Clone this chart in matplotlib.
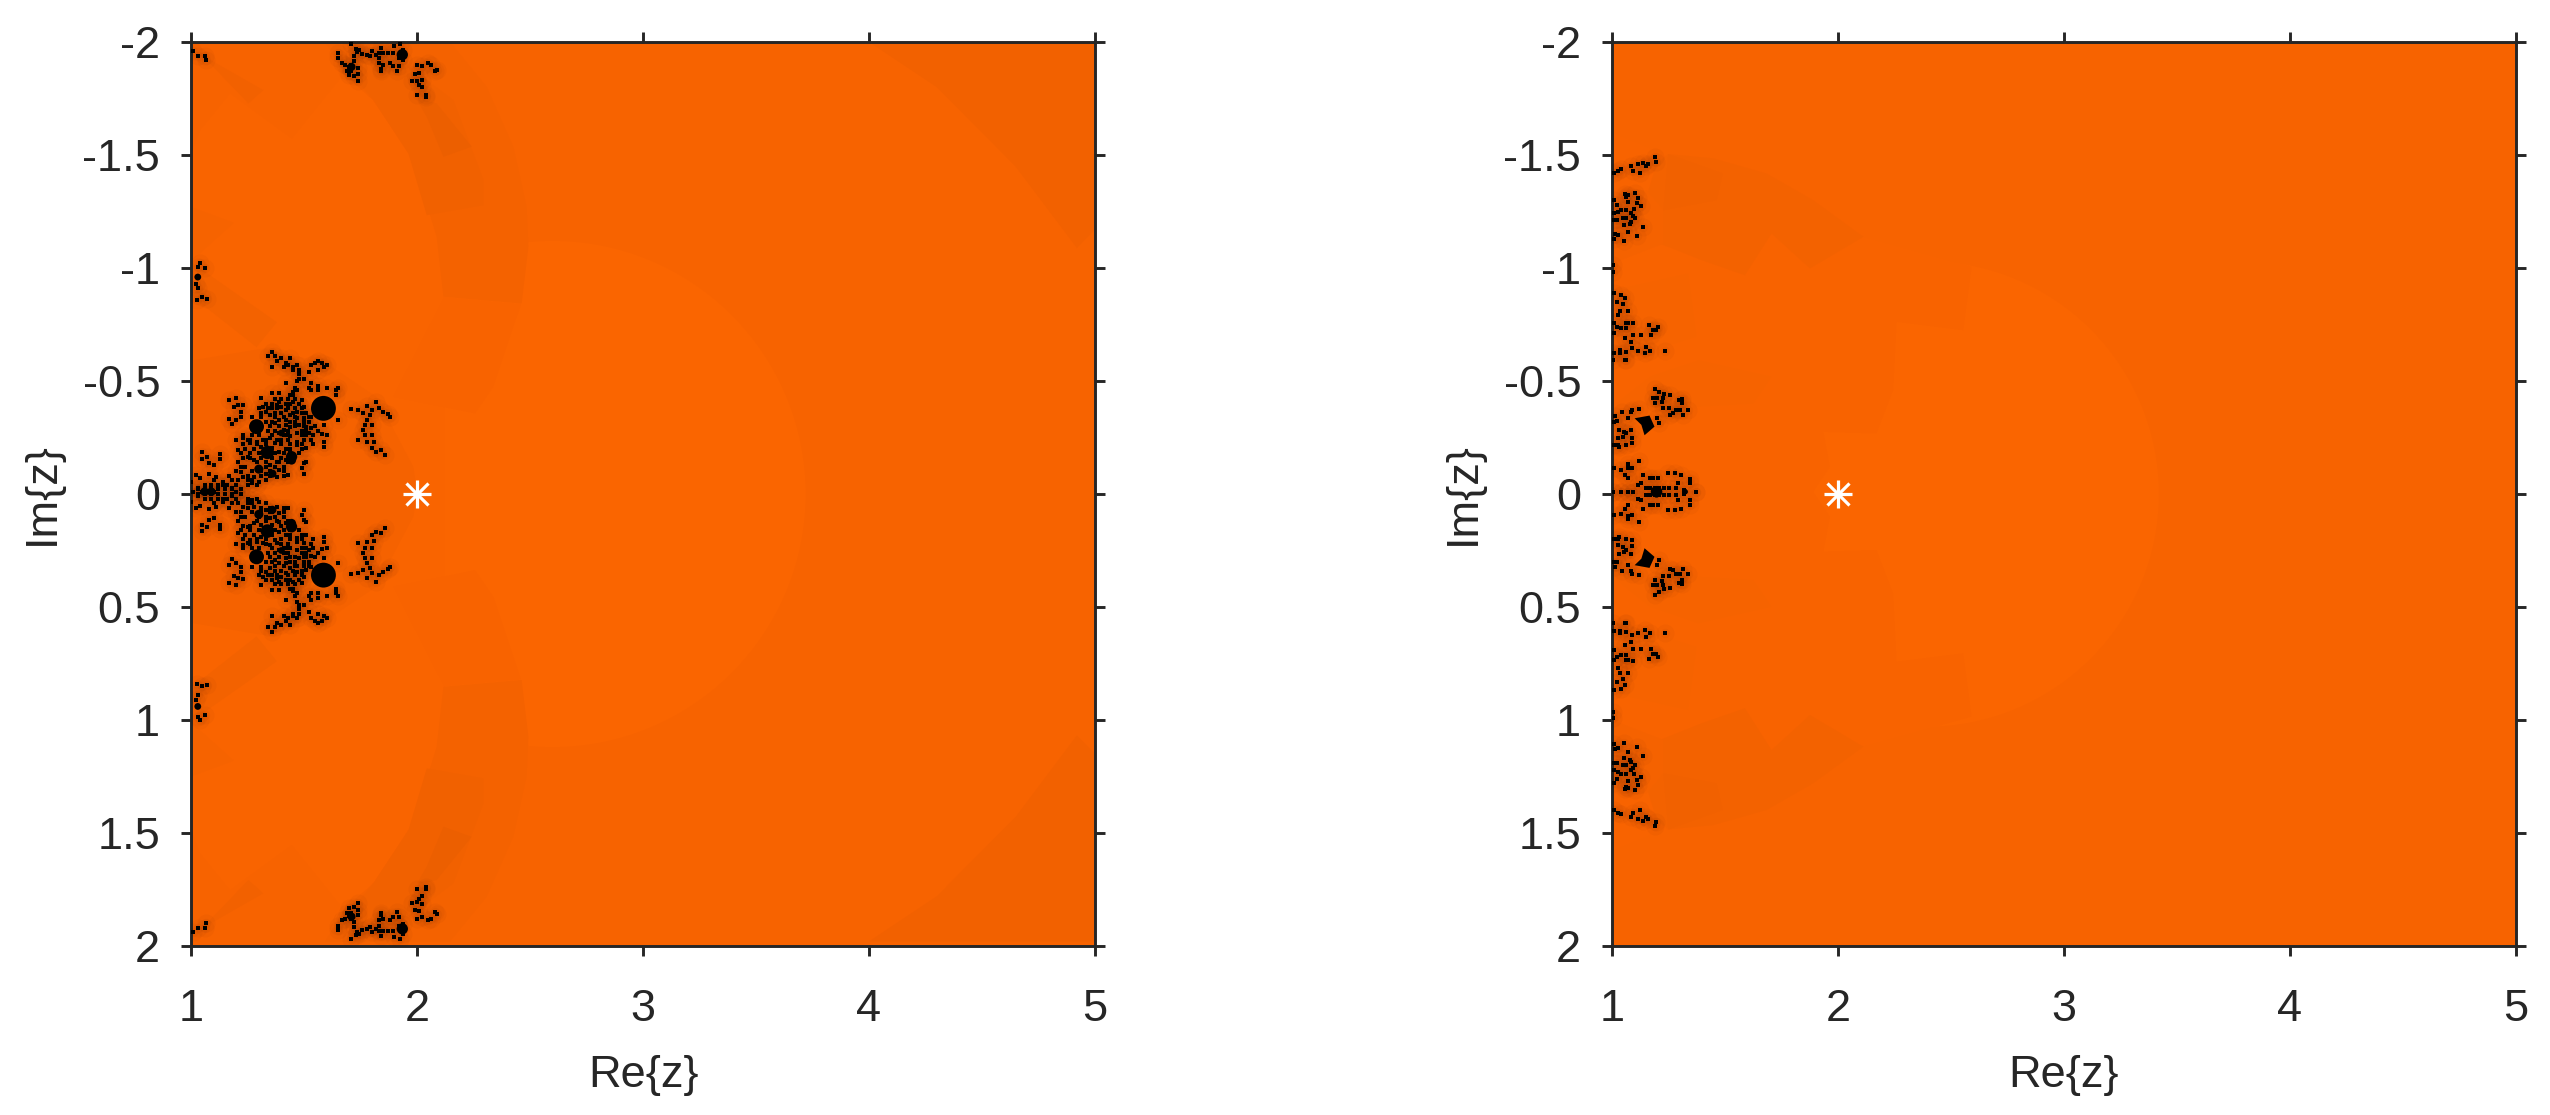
import numpy as np
import matplotlib
matplotlib.use("Agg")
import matplotlib.pyplot as plt
from matplotlib.patches import Circle, Polygon

plt.rcParams["font.family"] = ["Liberation Sans", "DejaVu Sans"]

ink = "#262626"
x_ticks = [1, 2, 3, 4, 5]
y_ticks = [-2, -1.5, -1, -0.5, 0, 0.5, 1, 1.5, 2]
y_tick_labels = ["-2", "-1.5", "-1", "-0.5", "0", "0.5", "1", "1.5", "2"]

# the pictures are mirror images about this Im value (half a grid cell off zero)
mirror_im = -0.01
star_point = (2.0, 0.0)

# left panel, upper half, black cells (Re, Im)
left_main = [
    (1.36, -.63), (1.34, -.61), (1.37, -.61), (1.38, -.59), (1.40, -.60), (1.44, -.60), (1.42, -.58), (1.43, -.57),
    (1.45, -.56), (1.41, -.56), (1.36, -.56), (1.47, -.57), (1.48, -.55), (1.48, -.53), (1.45, -.55), (1.56, -.59),
    (1.55, -.58), (1.53, -.57), (1.56, -.55), (1.58, -.58), (1.60, -.57), (1.59, -.56), (1.52, -.54), (1.50, -.51),
    (1.48, -.51), (1.47, -.50), (1.46, -.47), (1.45, -.45), (1.47, -.46), (1.45, -.44), (1.44, -.44), (1.42, -.49),
    (1.53, -.49), (1.52, -.47), (1.56, -.48), (1.56, -.46), (1.53, -.46), (1.60, -.47), (1.64, -.46), (1.65, -.47),
    (1.64, -.44), (1.39, -.445), (1.36, -.445), (1.31, -.423), (1.39, -.408), (1.38, -.393), (1.36, -.379),
    (1.40, -.386), (1.42, -.371), (1.32, -.386), (1.33, -.364), (1.35, -.349), (1.45, -.408), (1.49, -.416),
    (1.50, -.386), (1.47, -.364), (1.44, -.349), (1.51, -.357), (1.53, -.342), (1.50, -.337), (1.47, -.337),
    (1.42, -.327), (1.39, -.327), (1.37, -.312), (1.42, -.305), (1.44, -.298), (1.48, -.305), (1.51, -.298),
    (1.53, -.293), (1.59, -.305), (1.65, -.327), (1.41, -.283), (1.39, -.268), (1.41, -.26), (1.44, -.258),
    (1.47, -.268), (1.52, -.268), (1.54, -.26), (1.58, -.264), (1.50, -.239), (1.47, -.231), (1.38, -.239),
    (1.35, -.246), (1.37, -.224), (1.32, -.239), (1.29, -.231), (1.26, -.224), (1.25, -.239), (1.31, -.209),
    (1.36, -.202), (1.39, -.187), (1.41, -.18), (1.51, -.202), (1.59, -.231), (1.59, -.209), (1.47, -.216),
    (1.23, -.26), (1.23, -.246), (1.21, -.194), (1.25, -.165), (1.28, -.15), (1.31, -.158), (1.36, -.158),
    (1.39, -.143), (1.35, -.128), (1.42, -.15), (1.22, -.12), (1.22, -.098), (1.23, -.076), (1.25, -.06),
    (1.28, -.076), (1.33, -.09), (1.36, -.098), (1.39, -.106), (1.38, -.076), (1.30, -.054), (1.27, -.047),
    (1.43, -.084), (1.50, -.135), (1.51, -.143), (1.49, -.113), (1.50, -.09),
    (1.17, -.416), (1.20, -.423), (1.19, -.383), (1.21, -.393), (1.23, -.396), (1.22, -.364), (1.22, -.342),
    (1.20, -.327), (1.17, -.332), (1.18, -.308), (1.27, -.342), (1.31, -.342),
    (1.05, -.184), (1.05, -.155), (1.07, -.165), (1.08, -.135), (1.10, -.128), (1.13, -.175), (1.13, -.155),
    (1.02, -.084), (1.04, -.072), (1.08, -.087), (1.11, -.076), (1.14, -.054), (1.12, -.04), (1.16, -.04),
    (1.18, -.028), (1.20, -.01), (1.22, -.022), (1.00, -.054), (1.03, -.028), (1.01, -.01), (1.05, -.01),
    (1.08, -.01), (1.10, -.01),
]
# the dense middle of the same cluster
left_dense = [
    (1.37, -.42), (1.40, -.42), (1.43, -.42), (1.46, -.42), (1.33, -.40), (1.36, -.40), (1.42, -.40), (1.44, -.40),
    (1.48, -.40), (1.30, -.38), (1.34, -.38), (1.38, -.38), (1.43, -.38), (1.46, -.38), (1.49, -.38), (1.31, -.36),
    (1.37, -.36), (1.40, -.36), (1.45, -.36), (1.49, -.36), (1.37, -.34), (1.41, -.34), (1.46, -.34), (1.52, -.34),
    (1.33, -.32), (1.36, -.32), (1.44, -.32), (1.46, -.32), (1.50, -.32), (1.52, -.32), (1.35, -.30), (1.39, -.30),
    (1.46, -.30), (1.50, -.30), (1.55, -.30), (1.34, -.28), (1.37, -.28), (1.43, -.28), (1.49, -.28), (1.51, -.28),
    (1.56, -.28), (1.27, -.26), (1.30, -.26), (1.36, -.26), (1.43, -.26), (1.49, -.26), (1.51, -.26), (1.60, -.26),
    (1.20, -.24), (1.26, -.24), (1.33, -.24), (1.40, -.24), (1.43, -.24), (1.53, -.24), (1.23, -.22), (1.29, -.22),
    (1.33, -.22), (1.40, -.22), (1.44, -.22), (1.49, -.22), (1.54, -.22), (1.24, -.20), (1.28, -.20), (1.42, -.20),
    (1.44, -.20), (1.49, -.20), (1.22, -.18), (1.26, -.18), (1.30, -.18), (1.37, -.18), (1.44, -.18), (1.48, -.18),
    (1.23, -.16), (1.26, -.16), (1.40, -.16), (1.44, -.16), (1.21, -.14), (1.29, -.14), (1.33, -.14), (1.38, -.14),
    (1.43, -.14), (1.24, -.12), (1.30, -.12), (1.33, -.12), (1.37, -.12), (1.41, -.12), (1.20, -.10), (1.27, -.10),
    (1.31, -.10), (1.35, -.10), (1.41, -.10), (1.17, -.08), (1.25, -.08), (1.31, -.08), (1.35, -.08), (1.41, -.08),
    (1.10, -.06), (1.18, -.06), (1.21, -.06), (1.27, -.06), (1.33, -.06), (1.06, -.04), (1.09, -.04), (1.14, -.04),
    (1.20, -.04), (1.25, -.04), (1.29, -.04), (1.03, -.02), (1.06, -.02), (1.09, -.02), (1.12, -.02), (1.15, -.02),
    (1.18, -.02), (1.22, -.02),
]
left_side = [
    (1.71, -.376), (1.74, -.371), (1.76, -.357), (1.78, -.39), (1.80, -.371), (1.79, -.349), (1.82, -.408),
    (1.83, -.379), (1.85, -.364), (1.87, -.354), (1.88, -.342), (1.78, -.327), (1.77, -.305), (1.80, -.305),
    (1.76, -.283), (1.77, -.26), (1.80, -.26), (1.74, -.239), (1.78, -.231), (1.81, -.228), (1.80, -.202),
    (1.82, -.187), (1.84, -.194), (1.86, -.172),
]
left_top = [
    (1.71, -1.99), (1.73, -1.97), (1.745, -1.966), (1.735, -1.956), (1.65, -1.95), (1.65, -1.93), (1.67, -1.907),
    (1.68, -1.90), (1.72, -1.937), (1.72, -1.915), (1.71, -1.90), (1.70, -1.888), (1.69, -1.873), (1.71, -1.873),
    (1.72, -1.848), (1.70, -1.853), (1.74, -1.859), (1.74, -1.829), (1.74, -1.885), (1.755, -1.949), (1.78, -1.944),
    (1.79, -1.937), (1.80, -1.959), (1.82, -1.944), (1.84, -1.974), (1.83, -1.952), (1.83, -1.93), (1.85, -1.952),
    (1.87, -1.952), (1.895, -1.952), (1.90, -1.981), (1.925, -1.989), (1.94, -1.966), (1.925, -1.937), (1.94, -1.922),
    (1.92, -1.93), (1.83, -1.907), (1.85, -1.90), (1.88, -1.907), (1.895, -1.893), (1.92, -1.893), (1.91, -1.87),
    (1.84, -1.873), (1.84, -1.882), (2.0, -1.90), (2.02, -1.893), (2.05, -1.907), (2.06, -1.90), (2.09, -1.878),
    (2.08, -1.87), (2.01, -1.863), (1.99, -1.859), (2.02, -1.834), (2.0, -1.826), (1.98, -1.829), (2.01, -1.81),
    (2.02, -1.80), (2.0, -1.767), (2.04, -1.767), (2.04, -1.757),
]
left_edge = [
    (1.03, -1.94), (1.06, -1.94), (1.01, -1.96), (1.065, -1.92), (1.04, -1.02), (1.03, -1.006), (1.06, -1.0),
    (1.02, -.93), (1.03, -.91), (1.05, -.87), (1.025, -.86), (1.07, -.865),
]
# solid lumps: Re, Im, radius
left_blobs_re = [1.586, 1.29, 1.338, 1.445, 1.445, 1.06, 1.09, 1.30, 1.36, 1.40, 1.03, 1.935, 1.71]
left_blobs_im = [-.379, -.298, -.184, -.165, -.15, -.01, -.01, -.11, -.09, -.27, -.96, -1.944, -1.89]
left_blobs_r = [.055, .033, .03, .025, .02, .018, .018, .02, .018, .015, .015, .025, .018]

# right panel, upper half
right_arc = [
    (1.19, -1.49), (1.196, -1.47), (1.159, -1.46), (1.137, -1.466), (1.115, -1.46), (1.152, -1.451), (1.082, -1.451),
    (1.093, -1.43), (1.04, -1.436), (1.026, -1.43), (1.011, -1.42), (1.122, -1.42),
]
right_upper = [
    (1.056, -1.327), (1.063, -1.315), (1.07, -1.323), (1.10, -1.33), (1.008, -1.30), (1.07, -1.29), (1.115, -1.308),
    (1.11, -1.286), (1.13, -1.274), (1.023, -1.279), (1.026, -1.25), (1.04, -1.257), (1.063, -1.257), (1.008, -1.242),
    (1.085, -1.242), (1.097, -1.26), (1.093, -1.231), (1.103, -1.22), (1.048, -1.22), (1.063, -1.22), (1.011, -1.212),
    (1.023, -1.212), (1.085, -1.205), (1.078, -1.195), (1.053, -1.19), (1.137, -1.18), (1.073, -1.16), (1.112, -1.141),
    (1.026, -1.146), (1.014, -1.15), (1.008, -1.127), (1.053, -1.121), (1.004, -1.013), (1.004, -.984),
]
right_middle = [
    (1.01, -.888), (1.04, -.881), (1.056, -.866), (1.05, -.84), (1.023, -.851), (1.073, -.811), (1.034, -.811),
    (1.026, -.792), (1.008, -.755), (1.02, -.74), (1.04, -.733), (1.063, -.755), (1.07, -.755), (1.093, -.758),
    (1.063, -.733), (1.162, -.748), (1.18, -.726), (1.196, -.726), (1.203, -.74), (1.174, -.704), (1.056, -.689),
    (1.082, -.674), (1.127, -.704), (1.093, -.704), (1.011, -.711), (1.034, -.637), (1.008, -.625), (1.034, -.625),
    (1.063, -.63), (1.088, -.645), (1.115, -.634), (1.144, -.623), (1.152, -.652), (1.166, -.634), (1.233, -.634),
    (1.004, -.593), (1.056, -.593), (1.063, -.593),
]
right_lower = [
    (1.19, -.465), (1.21, -.453), (1.18, -.424), (1.20, -.424), (1.225, -.424), (1.19, -.402), (1.23, -.441),
    (1.255, -.438), (1.225, -.382), (1.25, -.382), (1.22, -.406), (1.295, -.416), (1.31, -.42), (1.31, -.402),
    (1.285, -.372), (1.30, -.372), (1.27, -.357), (1.314, -.35), (1.336, -.372), (1.255, -.35), (1.09, -.372),
    (1.085, -.362), (1.12, -.377), (1.07, -.335), (1.045, -.362), (1.015, -.343), (1.01, -.32), (1.02, -.323),
    (1.03, -.284), (1.055, -.276), (1.05, -.254), (1.063, -.269), (1.085, -.284), (1.09, -.25), (1.025, -.247),
    (1.01, -.217), (1.025, -.217), (1.063, -.217), (1.09, -.225), (1.03, -.21), (1.20, -.335), (1.21, -.313),
]
right_centre = [
    (1.04, -.107), (1.056, -.085), (1.07, -.07), (1.01, -.114), (1.07, -.132), (1.07, -.117), (1.12, -.144),
    (1.09, -.114), (1.137, -.085), (1.13, -.048), (1.115, -.04), (1.166, -.07), (1.18, -.07), (1.203, -.07),
    (1.277, -.092), (1.29, -.048), (1.306, -.085), (1.343, -.067), (1.343, -.048), (1.247, -.092), (1.284, -.025),
    (1.32, -.018), (1.373, -.01), (1.07, -.01), (1.093, -.01), (1.004, -.01), (1.04, -.01),
    (1.15, -.025), (1.17, -.025), (1.19, -.025), (1.21, -.025), (1.23, -.025), (1.25, -.025),
]
right_blobs_re = [1.197, 1.323]
right_blobs_im = [-.01, -.01]
right_blobs_r = [.025, .012]
right_lump = [(1.10, -.335), (1.166, -.347), (1.188, -.298), (1.144, -.26), (1.13, -.306)]

# shaded regions, listed from back to front (upper half)
left_field = "#f76300"
left_disc = (2.6, 0.0, 1.12, "#fa6500")
left_regions = [
    ("#f96400", [(1, -2), (1.59, -2), (1.69, -1.85), (1.81, -1.74), (1.98, -1.48), (2.09, -1.14), (2.12, -.87),
                 (2.12, -.01), (1, -.01)]),
    ("#f76300", [(1, -2), (1.593, -2), (1.66, -1.839), (1.446, -1.573), (1.173, -1.773), (1.04, -1.61), (1, -1.507)]),
    ("#f26100", [(1.01, -1.964), (1.32, -1.787), (1.254, -1.728), (1.084, -1.905)]),
    ("#f86300", [(2.12, -.87), (2.46, -.84), (2.338, -.475), (2.257, -.357), (1.895, -.43)]),
    ("#f46200", [(2.146, -2), (2.308, -1.802), (2.426, -1.537), (2.485, -1.271), (2.493, -1.094), (2.463, -.843),
                 (2.117, -.873), (2.087, -1.138), (1.984, -1.478), (1.807, -1.743), (1.689, -1.846), (1.593, -2)]),
    ("#f16100", [(1.925, -1.92), (2.161, -1.743), (2.294, -1.389), (2.294, -1.278), (2.043, -1.234), (1.962, -1.507),
                 (1.807, -1.743), (1.733, -1.832), (1.689, -1.994)]),
    ("#ec5f00", [(2.03, -1.743), (2.087, -1.728), (2.242, -1.537), (2.117, -1.492), (2.043, -1.669), (2.0, -1.743)]),
    ("#f56200", [(1.0, -.59), (1.32, -.644), (1.6, -.578), (1.82, -.43), (1.984, -.12), (2.0, -.01), (1, -.01)]),
    ("#f66300", [(1, -1.27), (1.19, -1.2), (1.0, -1.03)]),
    ("#f36200", [(1.01, -1.02), (1.38, -.76), (1.29, -.65), (1.01, -.87)]),
    ("#f26100", [(4.0, -2), (4.3, -1.8), (4.65, -1.447), (4.92, -1.088), (5, -1.17), (5, -2)]),
]
right_field = "#f76300"
right_disc = (2.39, 0.0, 1.03, "#fa6500")
right_regions = [
    ("#f86300", [(1, -1.6), (2.112, -1.138), (2.591, -1.005), (2.554, -.725), (2.259, -.762), (2.244, -.46),
                 (2.17, -.268), (1.935, -.275), (1.964, -.12), (1.89, -.01), (1, -.01)]),
    ("#f36200", [(1.249, -1.504), (1.448, -1.485), (1.684, -1.418), (1.89, -1.30), (2.112, -1.138), (1.876, -.998),
                 (1.706, -1.153), (1.588, -.968), (1.396, -1.035), (1.212, -1.108), (1.153, -1.315), (1.197, -1.462)]),
    ("#f16100", [(1.249, -1.504), (1.49, -1.418), (1.463, -1.30), (1.227, -1.256)]),
    ("#f56200", [(1, -1.345), (1.153, -1.345), (1.227, -1.256), (1.227, -1.108), (1, -1.02)]),
    ("#f66300", [(1, -.9), (1.337, -.976), (1.374, -.696), (1, -.58)]),
    ("#f66300", [(1, -.386), (1.168, -.519), (1.382, -.592), (1.706, -.519), (1.625, -.4), (1.374, -.386), (1, -.19)]),
    ("#f86300", [(1, -.135), (1.212, -.194), (1.47, -.26), (1.566, -.157), (1.566, -.01), (1, -.01)]),
]


def mirrored(cells):
    re, im = np.array(cells).T
    return np.r_[re, re], np.r_[im, 2 * mirror_im - im]


def draw_panel(ax, field, disc, regions, cell_groups, blobs, star):
    ax.set_facecolor(field)
    ax.add_patch(Circle((disc[0], disc[1]), disc[2], color=disc[3], lw=0))
    for colour, verts in regions:
        verts = np.array(verts)
        ax.add_patch(Polygon(verts, closed=True, color=colour, lw=0))
        ax.add_patch(Polygon(np.c_[verts[:, 0], 2 * mirror_im - verts[:, 1]], closed=True, color=colour, lw=0))

    for cells in cell_groups:
        re, im = mirrored(cells)
        # soft dark halo round the cells
        ax.scatter(re, im, s=170, c="#3a1500", alpha=0.03, lw=0, zorder=3)
        ax.scatter(re, im, s=45, c="#3a1500", alpha=0.04, lw=0, zorder=3)
    for cells in cell_groups:
        re, im = mirrored(cells)
        ax.scatter(re, im, s=7, c="black", marker="s", lw=0, zorder=4)
    for re, im, r in zip(*blobs):
        ax.add_patch(Circle((re, im), r, color="black", lw=0, zorder=4))
        ax.add_patch(Circle((re, 2 * mirror_im - im), r, color="black", lw=0, zorder=4))

    ax.plot(*star, marker="+", ms=19.5, mew=2.3, color="white", zorder=5)
    ax.plot(*star, marker="x", ms=15.5, mew=2.3, color="white", zorder=5)

    ax.set_xlim(1, 5)
    ax.set_ylim(2, -2)
    ax.set_xticks(x_ticks)
    ax.set_yticks(y_ticks)
    ax.set_yticklabels(y_tick_labels)
    ax.tick_params(axis="x", which="major", direction="out", length=7.2, width=2.1, color=ink, labelcolor=ink,
                   labelsize=32.5, pad=23.5, top=True, bottom=True)
    ax.tick_params(axis="y", which="major", direction="out", length=7.2, width=2.1, color=ink, labelcolor=ink,
                   labelsize=32.5, pad=15, left=True, right=True)
    for side in ax.spines.values():
        side.set_linewidth(2.1)
        side.set_color(ink)
    ax.set_xlabel("Re{z}", fontsize=32.5, color=ink, labelpad=18.5)
    ax.set_ylabel("Im{z}", fontsize=32.5, color=ink, labelpad=14)


W, H = 2550, 1115
fig = plt.figure(figsize=(W / 100, H / 100), dpi=100)
ax1 = fig.add_axes([191 / W, (H - 946) / H, 904 / W, 904 / H])
ax2 = fig.add_axes([1612 / W, (H - 946) / H, 904 / W, 904 / H])

draw_panel(ax1, left_field, left_disc, left_regions, [left_main, left_dense, left_side, left_top, left_edge],
           (left_blobs_re, left_blobs_im, left_blobs_r), star_point)
draw_panel(ax2, right_field, right_disc, right_regions, [right_arc, right_upper, right_middle, right_lower, right_centre],
           (right_blobs_re, right_blobs_im, right_blobs_r), star_point)
lump = np.array(right_lump)
ax2.fill(lump[:, 0], lump[:, 1], color="black", lw=0, zorder=4)
ax2.fill(lump[:, 0], 2 * mirror_im - lump[:, 1], color="black", lw=0, zorder=4)

fig.savefig("out.png", dpi=100)
